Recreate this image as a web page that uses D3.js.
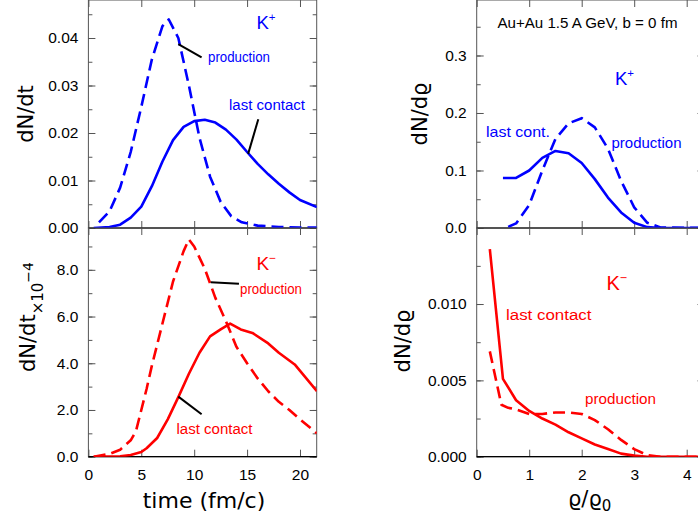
<!DOCTYPE html>
<html><head><meta charset="utf-8">
<script src="https://cdn.jsdelivr.net/npm/d3@7"></script>
<style>body{margin:0;background:#fff} svg{display:block}</style>
</head><body><svg id="c" width="698" height="522"></svg>
<script>
// ---------- DATA ----------
// K+ vs time (dN/dt)
const tKpProd = [1.0, 2.0, 3.0, 4.0, 5.0, 6.0, 7.0, 7.6, 8.5, 9.5, 10.5, 11.5, 12.5, 13.5, 14.5, 16, 18, 20, 21.6];
const vKpProd = [0.0012, 0.0035, 0.0085, 0.0160, 0.0255, 0.0355, 0.0425, 0.0439, 0.0400, 0.0300, 0.0190, 0.0108, 0.0055, 0.0025, 0.0012, 0.0005, 0.0002, 0.0001, 0.0001];
const tKpLast = [0.5, 2.0, 3.0, 4.0, 5.0, 6.0, 7.0, 8.0, 9.0, 10.0, 11.0, 12.0, 13.0, 14.0, 15.0, 16.0, 17.0, 18.0, 19.0, 20.0, 21.6];
const vKpLast = [0.0, 0.0002, 0.0007, 0.0022, 0.0045, 0.0088, 0.0140, 0.0185, 0.0213, 0.0225, 0.0228, 0.0222, 0.0207, 0.0186, 0.0160, 0.0135, 0.0113, 0.0093, 0.0075, 0.0059, 0.0044];
// K- vs time (dN/dt x 10^-4)
const tKmProd = [0.5, 2, 3, 4, 4.5, 5, 5.5, 6, 7, 8, 9, 9.5, 10, 11, 12, 13, 14, 15, 16, 17, 18, 19, 20, 21.6];
const vKmProd = [0.0, 0.12, 0.30, 0.70, 1.1, 2.0, 2.9, 3.9, 5.7, 7.5, 8.8, 9.3, 9.0, 8.05, 6.8, 5.8, 4.7, 4.0, 3.35, 2.8, 2.35, 2.0, 1.6, 1.0];
const tKmLast = [0.5, 3, 4, 5, 5.5, 6.5, 7.5, 8.5, 9.5, 10.5, 11.5, 12.5, 13.4, 14.4, 15.5, 17, 18, 19.5, 21.6];
const vKmLast = [0.0, 0.02, 0.07, 0.2, 0.36, 0.8, 1.6, 2.55, 3.55, 4.45, 5.15, 5.45, 5.7, 5.45, 5.3, 4.85, 4.45, 3.95, 2.8];
// K+ vs density (dN/drho)
const rKpLast = [0.5, 0.75, 1.0, 1.25, 1.5, 1.75, 2.0, 2.25, 2.5, 2.75, 3.0, 3.25, 3.5, 4.35];
const vKpLastR = [0.087, 0.087, 0.100, 0.122, 0.134, 0.130, 0.113, 0.085, 0.053, 0.027, 0.009, 0.0015, 0.0, 0.0];
const rKpProd = [0.6, 0.75, 1.0, 1.25, 1.5, 1.75, 2.0, 2.25, 2.5, 2.75, 3.0, 3.25, 3.5, 4.35];
const vKpProdR = [0.002, 0.008, 0.040, 0.100, 0.155, 0.182, 0.191, 0.175, 0.138, 0.082, 0.036, 0.009, 0.001, 0.0];
// K- vs density
const rKmLast = [0.25, 0.5, 0.75, 1.0, 1.25, 1.5, 1.75, 2.0, 2.25, 2.5, 2.75, 3.0, 3.25, 4.35];
const vKmLastR = [0.0136, 0.0051, 0.0037, 0.0030, 0.0025, 0.0021, 0.0016, 0.0012, 0.0008, 0.0005, 0.0002, 0.00007, 0.0, 0.0];
const rKmProd = [0.25, 0.47, 0.6, 0.75, 1.0, 1.25, 1.5, 1.75, 2.0, 2.25, 2.5, 2.75, 3.0, 3.25, 3.5, 4.35];
const vKmProdR = [0.0069, 0.0034, 0.0032, 0.0031, 0.0028, 0.0028, 0.0029, 0.0029, 0.0028, 0.0024, 0.0018, 0.0011, 0.0005, 0.0001, 0.0, 0.0];
// tick labels
const timeTicks = [0, 5, 10, 15, 20];
const rhoTicks = [0, 1, 2, 3, 4];
const yTicksTL = [0, 0.01, 0.02, 0.03, 0.04];
const yTicksBL = [0, 2, 4, 6, 8];
const yTicksTR = [0, 0.1, 0.2, 0.3];
const yTicksBR = [0, 0.005, 0.010];

// ---------- LAYOUT ----------
const svg = d3.select("#c");
const BLUE = "#0000ff", RED = "#ff0000", FRAME = "#555";
const TICKFONT = "'Liberation Sans', Arial, sans-serif";
const TITLEFONT = "'DejaVu Sans', sans-serif";

const xT = d3.scaleLinear().domain([0, 21.58]).range([88.4, 316.7]);
const xR = d3.scaleLinear().domain([0, 4.339]).range([476.7, 704.5]);
const yTL = d3.scaleLinear().domain([0, 0.048]).range([228, 0]);
const yBL = d3.scaleLinear().domain([0, 9.79]).range([456.7, 228]);
const yTR = d3.scaleLinear().domain([0, 0.3965]).range([228, 0]);
const yBR = d3.scaleLinear().domain([0, 0.01498]).range([456.7, 228]);

let clipId = 0;
function panel(x, y, xTicks, yMajor, yMinorStep, yFmt, showXLabels) {
  const [x0, x1] = x.range(), [y1, y0] = y.range();
  const g = svg.append("g");
  g.append("rect").attr("x", x0).attr("y", y0).attr("width", x1 - x0).attr("height", y1 - y0)
    .attr("fill", "none").attr("stroke", FRAME).attr("stroke-width", 1);
  const yMinor = d3.range(0, y.domain()[1] + 1e-9, yMinorStep);
  const style = a => { a.select(".domain").remove(); a.selectAll("line").attr("stroke", FRAME);
    a.selectAll("text").attr("font-family", TICKFONT).attr("font-size", 15.5).attr("fill", "#000"); };
  g.append("g").attr("transform", `translate(${x0},0)`)
    .call(d3.axisLeft(y).tickValues(yMinor).tickSize(-4).tickFormat("")).call(style);
  g.append("g").attr("transform", `translate(${x0},0)`)
    .call(d3.axisLeft(y).tickValues(yMajor).tickSize(-7).tickPadding(10).tickFormat(d3.format(yFmt))).call(style);
  g.append("g").attr("transform", `translate(${x1},0)`)
    .call(d3.axisRight(y).tickValues(yMinor).tickSize(-4).tickFormat("")).call(style);
  g.append("g").attr("transform", `translate(${x1},0)`)
    .call(d3.axisRight(y).tickValues(yMajor).tickSize(-7).tickFormat("")).call(style);
  g.append("g").attr("transform", `translate(0,${y0})`)
    .call(d3.axisTop(x).tickValues(xTicks).tickSize(-7).tickFormat("")).call(style);
  g.append("g").attr("transform", `translate(0,${y1})`)
    .call(d3.axisBottom(x).tickValues(xTicks).tickSize(-7).tickPadding(12).tickFormat(showXLabels ? d3.format("d") : "")).call(style);
  g.append("line").attr("x1", x0).attr("x2", x1).attr("y1", y(0)).attr("y2", y(0))
    .attr("stroke", "#000").attr("stroke-width", 1.2);
  const id = "clip" + (clipId++);
  svg.append("clipPath").attr("id", id).append("rect")
    .attr("x", x0).attr("y", y0).attr("width", x1 - x0).attr("height", y1 - y0);
  const lines = svg.append("g").attr("clip-path", `url(#${id})`);
  return (xs, vs, color, dashed) => {
    const line = d3.line().x(d => x(d[0])).y(d => y(d[1])).curve(d3.curveLinear);
    lines.append("path").attr("d", line(xs.map((v, i) => [v, vs[i]])))
      .attr("fill", "none").attr("stroke", color).attr("stroke-width", 2.6)
      .attr("stroke-linejoin", "round")
      .attr("stroke-dasharray", dashed ? "12,6" : null);
  };
}

const pTL = panel(xT, yTL, timeTicks, yTicksTL, 0.005, ".2f", false);
pTL(tKpProd, vKpProd, BLUE, true);
pTL(tKpLast, vKpLast, BLUE, false);
const pBL = panel(xT, yBL, timeTicks, yTicksBL, 1, ".1f", true);
pBL(tKmProd, vKmProd, RED, true);
pBL(tKmLast, vKmLast, RED, false);
const pTR = panel(xR, yTR, rhoTicks, yTicksTR, 0.05, ".1f", false);
pTR(rKpProd, vKpProdR, BLUE, true);
pTR(rKpLast, vKpLastR, BLUE, false);
const pBR = panel(xR, yBR, rhoTicks, yTicksBR, 0.0025, ".3f", true);
pBR(rKmProd, vKmProdR, RED, true);
pBR(rKmLast, vKmLastR, RED, false);

// ---------- TEXT ----------
function txt(x, y, s, color, size, opts = {}) {
  const t = svg.append("text").attr("x", x).attr("y", y).text(s).attr("fill", color)
    .attr("font-family", opts.font || TICKFONT).attr("font-size", size);
  if (opts.len) t.attr("textLength", opts.len).attr("lengthAdjust", "spacingAndGlyphs");
  if (opts.anchor) t.attr("text-anchor", opts.anchor);
  return t;
}
function kLabel(x, y, sign, color, size) {
  const t = svg.append("text").attr("x", x).attr("y", y).attr("fill", color)
    .attr("font-family", TICKFONT).attr("font-size", size);
  t.append("tspan").text("K");
  t.append("tspan").text(sign).attr("font-size", size * 0.62).attr("dy", -size * 0.42);
}
function leader(x, y, a, b) {
  svg.append("line").attr("x1", x(a[0])).attr("y1", y(a[1])).attr("x2", x(b[0])).attr("y2", y(b[1]))
    .attr("stroke", "#000").attr("stroke-width", 2);
}

kLabel(256.5, 28.5, "+", BLUE, 18.5);
txt(208, 62, "production", BLUE, 14, {len: 62});
txt(229, 110, "last contact", BLUE, 14, {len: 76});
leader(xT, yTL, [8.5, 0.0387], [10.7, 0.0359]);
leader(xT, yTL, [16.06, 0.0229], [15.1, 0.0156]);

kLabel(256.5, 269.5, "\u2212", RED, 19);
txt(240, 294, "production", RED, 14, {len: 62});
txt(176.5, 434, "last contact", RED, 14, {len: 76});
leader(xT, yBL, [11.56, 7.47], [14.23, 7.40]);
leader(xT, yBL, [8.5, 2.57], [10.7, 1.82]);

txt(497.5, 27.5, "Au+Au 1.5 A GeV, b = 0 fm", "#000", 14, {len: 180});
kLabel(615, 85, "+", BLUE, 18.5);
txt(486, 137, "last cont.", BLUE, 15, {len: 64});
txt(611.5, 148, "production", BLUE, 15, {len: 70});

kLabel(606.5, 290, "\u2212", RED, 20);
txt(506, 320, "last contact", RED, 15.5, {len: 85.5});
txt(585, 404, "production", RED, 15.5, {len: 71});

function vtitle(x, y, parts, size) {
  const t = svg.append("text").attr("transform", `translate(${x},${y}) rotate(-90)`)
    .attr("font-family", TITLEFONT).attr("font-size", size).attr("fill", "#000");
  parts(t);
  return t;
}
vtitle(33, 114, t => t.attr("text-anchor", "middle").text("dN/dt"), 21);
vtitle(35, 372, t => {
  t.append("tspan").text("dN/dt");
  t.append("tspan").text("\u00d710").attr("font-size", 15).attr("dy", 8);
  t.append("tspan").text("\u22124").attr("font-size", 14).attr("dy", -10);
}, 21);
vtitle(427, 114, t => t.attr("text-anchor", "middle").text("dN/d\u03f1"), 21);
vtitle(410, 341, t => t.attr("text-anchor", "middle").text("dN/d\u03f1"), 21);

txt(204, 508, "time (fm/c)", "#000", 22, {font: TITLEFONT, anchor: "middle"});
const rl = svg.append("text").attr("x", 568).attr("y", 506).attr("fill", "#000")
  .attr("font-family", TITLEFONT).attr("font-size", 21);
rl.append("tspan").text("\u03f1/\u03f1");
rl.append("tspan").text("0").attr("font-size", 15).attr("dy", 5);
</script></body></html>
